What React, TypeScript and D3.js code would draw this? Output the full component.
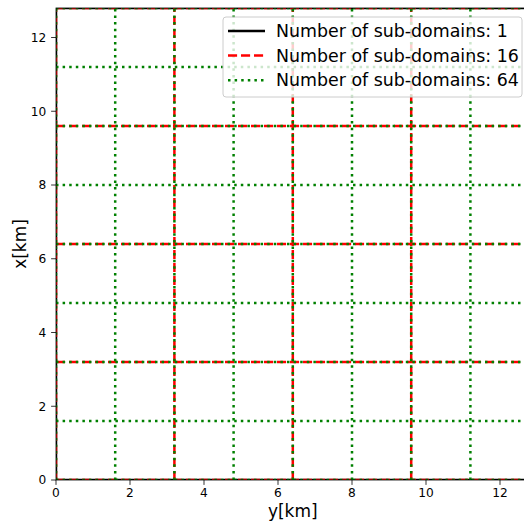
import React from "react";
import * as d3 from "d3";

// grid boundaries (km) for each decomposition
const bounds1 = [0, 12.8];
const bounds16 = [0, 3.2, 6.4, 9.6, 12.8];
const bounds64 = [0, 1.6, 3.2, 4.8, 6.4, 8.0, 9.6, 11.2, 12.8];

const seriesLabels = [
  "Number of sub-domains: 1",
  "Number of sub-domains: 16",
  "Number of sub-domains: 64",
];
const seriesColors = ["#000000", "#ff0000", "#008000"];
const seriesDash = [null, "9.1,3.9", "2.5,4.1"];

const xTicks = [0, 2, 4, 6, 8, 10, 12];
const yTicks = [0, 2, 4, 6, 8, 10, 12];

const W = 524;
const H = 522;
const left = 56;
const top = 8;
const bottom = 480;
const right = 529.6;

const font = "'DejaVu Sans', sans-serif";

export default function App() {
  const x = d3.scaleLinear().domain([0, 12.8]).range([left, right]);
  const y = d3.scaleLinear().domain([0, 12.8]).range([bottom, top]);
  const line = d3
    .line<[number, number]>()
    .x((d) => x(d[0]))
    .y((d) => y(d[1]));

  const allBounds = [bounds1, bounds16, bounds64];

  return (
    <svg
      width={W}
      height={H}
      style={{ position: "fixed", left: 0, top: 0, background: "#fff" }}
      fontFamily={font}
    >
      <defs>
        <clipPath id="plotClip">
          <rect x={left} y={top} width={right - left} height={bottom - top} />
        </clipPath>
      </defs>
      <rect x={0} y={0} width={W} height={H} fill="#fff" />

      <g clipPath="url(#plotClip)">
        {allBounds.map((b, si) => (
          <g key={si}>
            {b.map((v, i) => (
              <g key={i}>
                <path
                  d={line([[v, 0], [v, 12.8]]) as string}
                  stroke={seriesColors[si]}
                  strokeWidth={2.5}
                  strokeDasharray={seriesDash[si] ?? undefined}
                  fill="none"
                />
                <path
                  d={line([[0, v], [12.8, v]]) as string}
                  stroke={seriesColors[si]}
                  strokeWidth={2.5}
                  strokeDasharray={seriesDash[si] ?? undefined}
                  fill="none"
                />
              </g>
            ))}
          </g>
        ))}
      </g>

      {/* spines */}
      <rect
        x={left}
        y={top}
        width={right - left}
        height={bottom - top}
        fill="none"
        stroke="#000"
        strokeWidth={0.8}
      />

      {/* x ticks */}
      {xTicks.map((t) => (
        <g key={"x" + t}>
          <line x1={x(t)} x2={x(t)} y1={bottom} y2={bottom + 4.9} stroke="#000" strokeWidth={0.8} />
          <text x={x(t)} y={bottom + 17.3} textAnchor="middle" fontSize={12.2} fill="#000">
            {t}
          </text>
        </g>
      ))}
      {/* y ticks */}
      {yTicks.map((t) => (
        <g key={"y" + t}>
          <line x1={left - 4.9} x2={left} y1={y(t)} y2={y(t)} stroke="#000" strokeWidth={0.8} />
          <text x={left - 9.8} y={y(t)} dy="0.36em" textAnchor="end" fontSize={12.2} fill="#000">
            {t}
          </text>
        </g>
      ))}

      <text x={(left + right) / 2} y={517} textAnchor="middle" fontSize={17} fill="#000">
        y[km]
      </text>
      <text
        transform={`translate(26,${(top + bottom) / 2}) rotate(-90)`}
        textAnchor="middle"
        fontSize={17}
        fill="#000"
      >
        x[km]
      </text>

      {/* legend */}
      <g>
        <rect
          x={223}
          y={17}
          width={299}
          height={80}
          rx={3}
          fill="#fff"
          fillOpacity={0.8}
          stroke="#cccccc"
          strokeWidth={1}
        />
        {seriesLabels.map((lab, i) => {
          const ry = 31 + i * 24.6;
          return (
            <g key={lab}>
              <line
                x1={228}
                x2={265}
                y1={ry}
                y2={ry}
                stroke={seriesColors[i]}
                strokeWidth={2.5}
                strokeDasharray={seriesDash[i] ?? undefined}
              />
              <text x={276} y={ry} dy="0.36em" fontSize={17.4} fill="#000">
                {lab}
              </text>
            </g>
          );
        })}
      </g>
    </svg>
  );
}
